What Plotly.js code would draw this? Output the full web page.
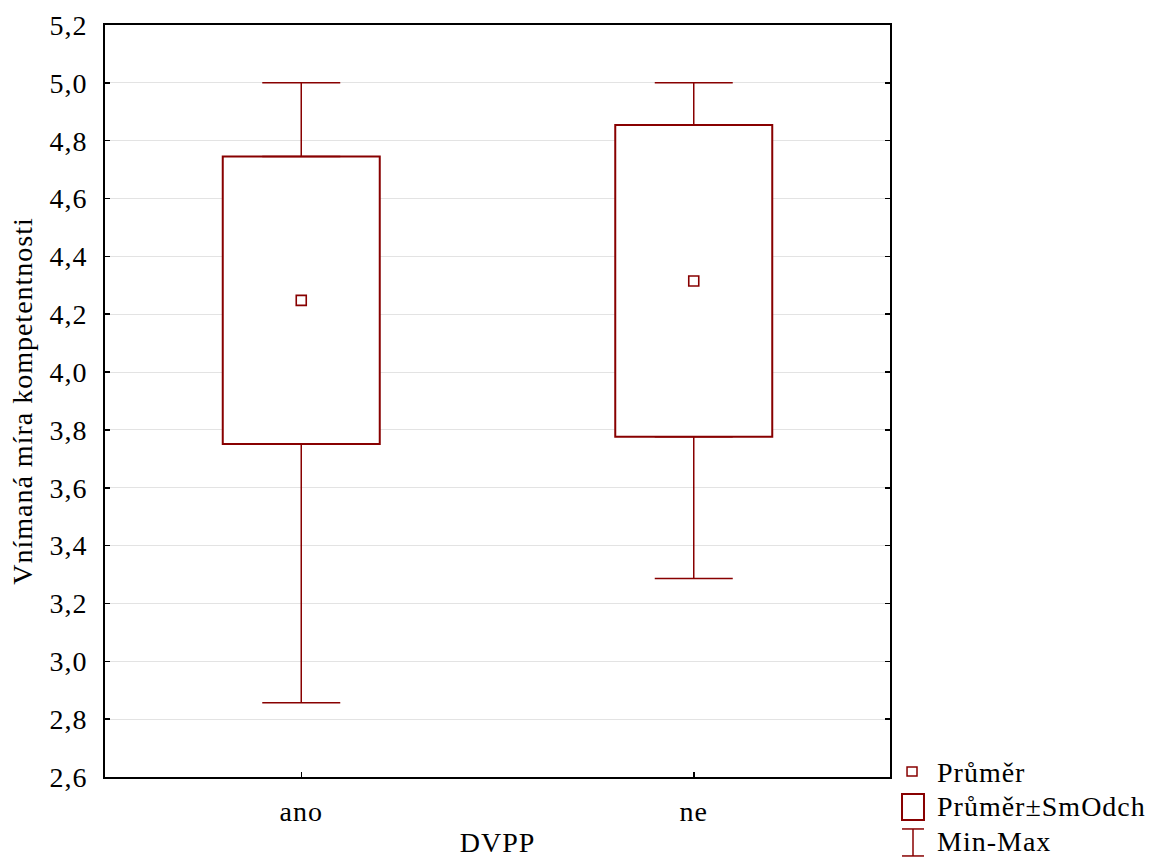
<!DOCTYPE html>
<html>
<head>
<meta charset="utf-8">
<script src="https://cdn.plot.ly/plotly-3.0.1.min.js"></script>
<style>
html,body{margin:0;padding:0;background:#fff;}
#chart{width:1149px;height:858px;}
svg text{letter-spacing:1px;}
</style>
</head>
<body>
<div id="chart"></div>
<script>
const categories = ["ano", "ne"];
const means = [4.248, 4.315];
const sds = [0.497, 0.539];
const mins = [2.857, 3.286];
const maxs = [5.0, 5.0];
const yTicks = [2.6, 2.8, 3.0, 3.2, 3.4, 3.6, 3.8, 4.0, 4.2, 4.4, 4.6, 4.8, 5.0, 5.2];
const legendLabels = ["Průměr", "Průměr±SmOdch", "Min-Max"];

const RED = "#880000";
const FONT = "Liberation Serif";
const FS = 28;

const boxLow = means.map((m, i) => m - sds[i]);
const boxHigh = means.map((m, i) => m + sds[i]);

const traces = [
  {
    type: "bar", x: categories, base: boxLow, y: sds.map(s => 2 * s),
    width: 0.4, marker: {color: "#ffffff", line: {color: RED, width: 2}},
    showlegend: false, hoverinfo: "skip"
  },
  {
    type: "scatter", mode: "markers", x: categories, y: boxHigh,
    marker: {size: 1, opacity: 0},
    error_y: {type: "data", symmetric: false, array: maxs.map((v, i) => v - boxHigh[i]),
      arrayminus: [0, 0], color: RED, thickness: 1.5, width: 39},
    showlegend: false, hoverinfo: "skip"
  },
  {
    type: "scatter", mode: "markers", x: categories, y: boxLow,
    marker: {size: 1, opacity: 0},
    error_y: {type: "data", symmetric: false, array: [0, 0],
      arrayminus: boxLow.map((v, i) => v - mins[i]), color: RED, thickness: 1.5, width: 39},
    showlegend: false, hoverinfo: "skip"
  },
  {
    type: "scatter", mode: "markers", x: categories, y: means,
    marker: {symbol: "square-open", size: 10, color: RED, line: {width: 1.6, color: RED}},
    showlegend: false, hoverinfo: "skip"
  }
];

const shapes = [
  {type: "rect", xref: "paper", yref: "paper",
   x0: 1.0217, x1: 1.0344, y0: 0.0013, y1: 0.0133, line: {color: RED, width: 1.5}, fillcolor: "#fff"},
  {type: "rect", xref: "paper", yref: "paper",
   x0: 1.0153, x1: 1.0433, y0: -0.0572, y1: -0.0226, line: {color: RED, width: 2}, fillcolor: "#fff"},
  {type: "line", xref: "paper", yref: "paper",
   x0: 1.0153, x1: 1.0433, y0: -0.0691, y1: -0.0691, line: {color: RED, width: 1.5}},
  {type: "line", xref: "paper", yref: "paper",
   x0: 1.0153, x1: 1.0433, y0: -0.105, y1: -0.105, line: {color: RED, width: 1.5}},
  {type: "line", xref: "paper", yref: "paper",
   x0: 1.0293, x1: 1.0293, y0: -0.0691, y1: -0.105, line: {color: RED, width: 1.5}}
];

const legendY = [0.0066, -0.0386, -0.0864];
const annotations = legendLabels.map((t, i) => ({
  text: t, xref: "paper", yref: "paper", x: 1.0573, y: legendY[i],
  xanchor: "left", yanchor: "middle", showarrow: false,
  font: {family: FONT, size: FS, color: "#000"}
}));

const layout = {
  width: 1149, height: 858,
  margin: {l: 105, r: 259, t: 25, b: 81},
  paper_bgcolor: "#fff", plot_bgcolor: "#fff",
  separators: ", ",
  font: {family: FONT, size: FS, color: "#000"},
  showlegend: false,
  xaxis: {
    type: "category", range: [-0.5, 1.5],
    showline: true, linecolor: "#000", linewidth: 2, mirror: true,
    ticks: "inside", ticklen: 5, tickcolor: "#000", tickwidth: 1.5,
    showgrid: false, zeroline: false,
    tickfont: {family: FONT, size: FS},
    ticklabelstandoff: 8,
    title: {text: "DVPP", font: {family: FONT, size: FS}, standoff: 8}
  },
  yaxis: {
    range: [2.6, 5.2], tickvals: yTicks, tickformat: ".1f",
    showline: true, linecolor: "#000", linewidth: 2, mirror: "ticks",
    ticks: "inside", ticklen: 5, tickcolor: "#000", tickwidth: 1.5,
    showgrid: true, gridcolor: "#e3e3e3", gridwidth: 1, zeroline: false,
    tickfont: {family: FONT, size: FS},
    ticklabelstandoff: 10,
    title: {text: "Vnímaná míra kompetentnosti", font: {family: FONT, size: FS}, standoff: 9}
  },
  shapes: shapes,
  annotations: annotations
};

Plotly.newPlot("chart", traces, layout, {displayModeBar: false, staticPlot: true});
</script>
</body>
</html>
